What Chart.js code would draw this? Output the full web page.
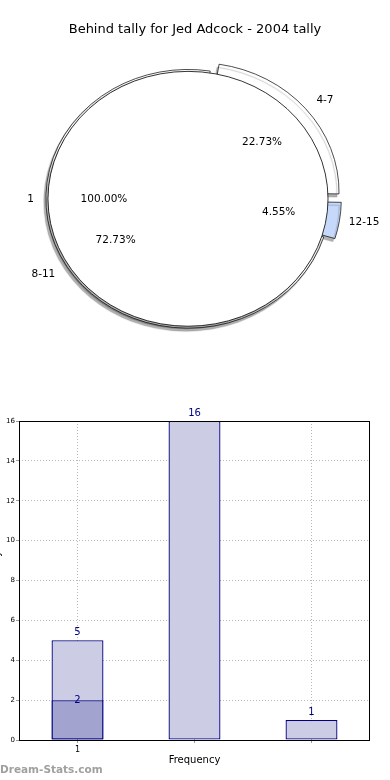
<!DOCTYPE html>
<html>
<head>
<meta charset="utf-8">
<script src="https://cdn.jsdelivr.net/npm/chart.js@4.4.1/dist/chart.umd.min.js"></script>
<style>
  html, body { margin: 0; padding: 0; background: #fff; }
  canvas { display: block; }
</style>
</head>
<body>
<canvas id="pieChart" width="390" height="375"></canvas>
<canvas id="barChart" width="390" height="405"></canvas>
<script>
// --- DATA ---
const chartTitle = 'Behind tally for Jed Adcock - 2004 tally';
const innerLabels = ['1'];
const innerCounts = [1];
const outerLabels = ['4-7', '12-15', '8-11'];
const outerCounts = [5, 1, 16];

const barCategories = ['1', '', ''];
const barTotals = [5, 16, 1];
const barInner = [2, null, null];
const yTickMax = 16;
const yTickStep = 2;

const FONT = 'DejaVu Sans';

// --- 1. PIE (nested, exploded outer ring, squashed to an ellipse) ---
const ellipse = { dx: -7, sx: 1.045, sy: 0.951 };

function mapPoint(chart, x, y) {
    const a = chart.chartArea;
    const cx = (a.left + a.right) / 2, cy = (a.top + a.bottom) / 2;
    return { x: cx + ellipse.dx + (x - cx) * ellipse.sx, y: cy + (y - cy) * ellipse.sy };
}

const ellipsePlugin = {
    id: 'ellipse',
    beforeDatasetsDraw(chart) {
        const ctx = chart.ctx, a = chart.chartArea;
        const cx = (a.left + a.right) / 2, cy = (a.top + a.bottom) / 2;
        ctx.save();
        ctx.translate(cx + ellipse.dx, cy);
        ctx.scale(ellipse.sx, ellipse.sy);
        ctx.translate(-cx, -cy);
        ctx.shadowColor = 'rgba(0,0,0,0.3)';
        ctx.shadowOffsetX = -2;
        ctx.shadowOffsetY = 3;
        ctx.shadowBlur = 1;
    },
    afterDatasetsDraw(chart) {
        const ctx = chart.ctx;
        // outline of the inner (single-wedge) pie, without the radial seam
        const inner = chart.getDatasetMeta(1).data[0];
        const ip = inner.getProps(['x', 'y', 'outerRadius'], true);
        ctx.shadowColor = 'rgba(0,0,0,0)';
        ctx.beginPath();
        ctx.arc(ip.x, ip.y, ip.outerRadius, 0, Math.PI * 2);
        ctx.strokeStyle = '#000';
        ctx.lineWidth = 0.8;
        ctx.stroke();
        ctx.restore();

        ctx.save();
        ctx.fillStyle = '#000';
        ctx.font = '10.5px ' + FONT;
        ctx.textBaseline = 'middle';
        chart.data.datasets.forEach((ds, di) => {
            const meta = chart.getDatasetMeta(di);
            const total = ds.data.reduce((s, v) => s + v, 0);
            meta.data.forEach((arc, i) => {
                const p = arc.getProps(['x', 'y', 'startAngle', 'endAngle', 'outerRadius'], true);
                const mid = (p.startAngle + p.endAngle) / 2;
                const shift = (arc.options.offset || 0) / 4;
                const c = Math.cos(mid), s = Math.sin(mid);
                const lab = mapPoint(chart, p.x + c * (1.1 * p.outerRadius + shift), p.y + s * (1.1 * p.outerRadius + shift));
                ctx.textAlign = c > 0.01 ? 'left' : 'right';
                ctx.fillText(chart.data.labels[di][i], lab.x, lab.y);
                const pc = mapPoint(chart, p.x + c * (0.6 * p.outerRadius + shift), p.y + s * (0.6 * p.outerRadius + shift));
                ctx.textAlign = 'center';
                ctx.fillText((ds.data[i] / total * 100).toFixed(2) + '%', pc.x, pc.y);
            });
        });
        ctx.restore();
    }
};

new Chart(document.getElementById('pieChart'), {
    type: 'pie',
    data: {
        labels: [outerLabels, innerLabels],
        datasets: [
            {
                data: outerCounts,
                backgroundColor: ['#ffffff', '#c6d9fb', '#ffffff'],
                borderColor: '#000',
                borderWidth: 0.7,
                offset: [44, 25, 0],
                radius: 136,
                rotation: 9,
                order: 1,
                clip: false
            },
            {
                data: innerCounts,
                backgroundColor: '#ffffff',
                borderWidth: 0,
                radius: 268,
                rotation: 90,
                order: 0,
                clip: false
            }
        ]
    },
    options: {
        responsive: false,
        animation: false,
        hoverOffset: 0,
        layout: { padding: { bottom: 25 } },
        plugins: {
            legend: { display: false },
            tooltip: { enabled: false },
            title: {
                display: true,
                text: chartTitle,
                color: '#000',
                font: { family: FONT, size: 13, weight: 'normal' },
                padding: { top: 22, bottom: 10 }
            }
        }
    },
    plugins: [ellipsePlugin]
});

// --- 2. BAR CHART ---
const barLabelPlugin = {
    id: 'barLabels',
    afterDatasetsDraw(chart) {
        const ctx = chart.ctx;
        ctx.save();
        ctx.fillStyle = '#000080';
        ctx.font = '10px ' + FONT;
        ctx.textAlign = 'center';
        ctx.textBaseline = 'middle';
        chart.data.datasets.forEach((ds, di) => {
            chart.getDatasetMeta(di).data.forEach((bar, i) => {
                const v = ds.data[i];
                if (v === null) return;
                ctx.fillText(String(v), bar.x, bar.y - ds.labelLift);
            });
        });
        ctx.restore();
    },
    afterDraw(chart) {
        const ctx = chart.ctx, a = chart.chartArea;
        ctx.save();
        ctx.strokeStyle = '#000';
        ctx.lineWidth = 1;
        ctx.strokeRect(Math.round(a.left) + 0.5, Math.round(a.top) + 0.5,
            Math.round(a.right - a.left) - 1, Math.round(a.bottom - a.top));
        ctx.fillStyle = '#a0a0a0';
        ctx.font = 'bold 10.5px ' + FONT;
        ctx.textAlign = 'left';
        ctx.textBaseline = 'middle';
        ctx.fillText('Dream-Stats.com', 0, chart.height - 10);
        ctx.restore();
    }
};

const gridStyle = { color: '#b8b8b8', lineWidth: 1, tickLength: 3, tickColor: '#999' };

new Chart(document.getElementById('barChart'), {
    type: 'bar',
    data: {
        labels: barCategories,
        datasets: [
            {
                data: barTotals,
                backgroundColor: '#ccccE5',
                borderColor: '#000080',
                borderWidth: 1.3,
                borderSkipped: false,
                grouped: false,
                order: 1,
                labelLift: 8
            },
            {
                data: barInner,
                backgroundColor: '#a3a3cf',
                borderColor: '#000080',
                borderWidth: 1.3,
                borderSkipped: false,
                grouped: false,
                order: 0,
                labelLift: 0
            }
        ]
    },
    options: {
        responsive: false,
        animation: false,
        barPercentage: 0.444,
        categoryPercentage: 1,
        layout: { padding: { top: 46, right: 20, left: 0, bottom: 0 } },
        plugins: { legend: { display: false }, tooltip: { enabled: false } },
        scales: {
            x: {
                z: 1,
                grid: { ...gridStyle, offset: false },
                border: { display: false, dash: [1, 2] },
                ticks: { color: '#000', padding: 2, font: { family: FONT, size: 8 } },
                title: { display: true, text: 'Frequency', color: '#000',
                         font: { family: FONT, size: 10 }, padding: { top: 0, bottom: 14 } },
                afterFit(scale) { scale.height = 40; }
            },
            y: {
                min: 0,
                max: yTickMax,
                grid: gridStyle,
                border: { display: false, dash: [1, 2] },
                ticks: { stepSize: yTickStep, color: '#000', padding: 1, font: { family: FONT, size: 7 } },
                title: { display: true, text: 'Behind tally', color: '#000',
                         font: { family: FONT, size: 10 }, padding: { top: -9, bottom: 0 } },
                afterFit(scale) { scale.width = 19; }
            }
        }
    },
    plugins: [barLabelPlugin]
});
</script>
</body>
</html>
